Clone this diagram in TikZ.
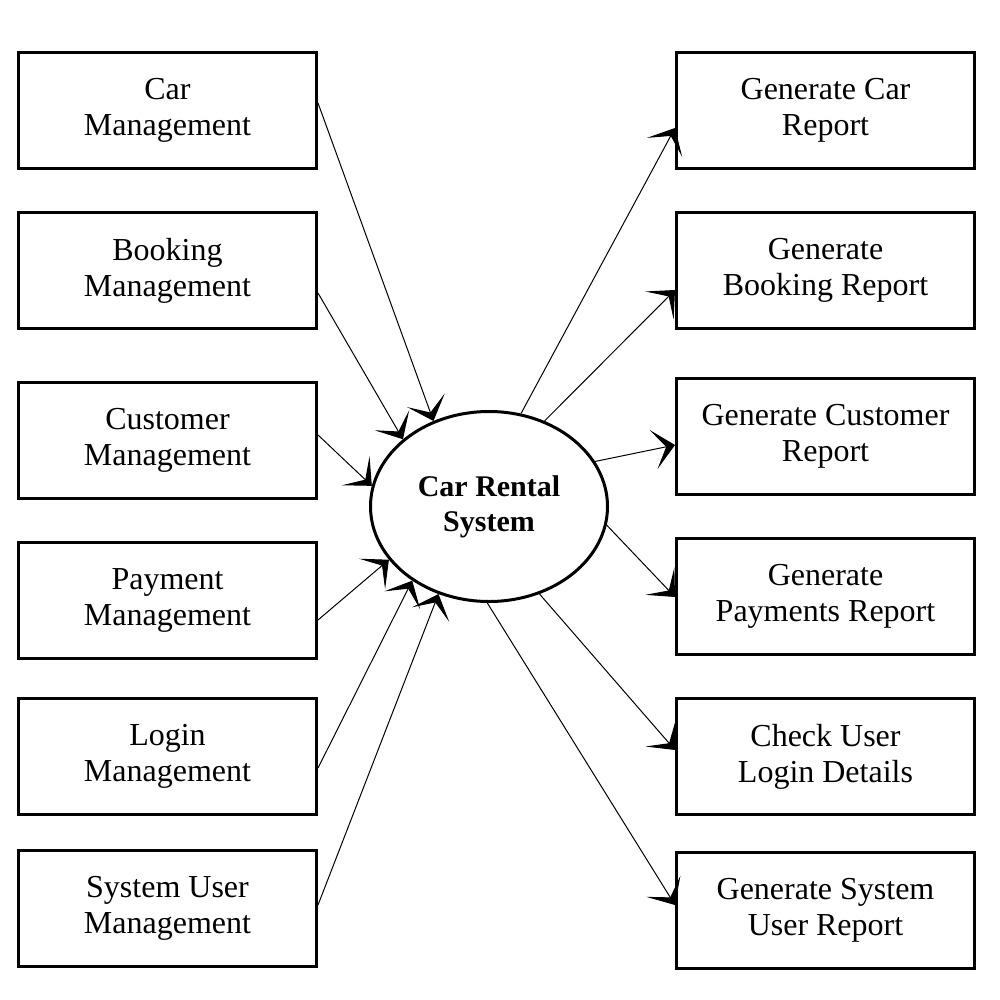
\documentclass[tikz,border=0pt]{standalone}
\usepackage{fontspec}
\setmainfont{Liberation Serif}
\usetikzlibrary{arrows.meta,calc,shapes.geometric}
\begin{document}
\begin{tikzpicture}[x=1pt,y=-1pt,
 box/.style={draw,line width=3pt,minimum width=298pt,minimum height=116pt,inner sep=0pt,align=center,font=\fontsize{32}{36}\selectfont},
 sys/.style={draw,ellipse,line width=3pt,minimum width=237pt,minimum height=190pt,inner sep=0pt,align=center,font=\bfseries\fontsize{30}{35}\selectfont},
 conn/.style={line width=1pt,-{Stealth[length=22pt,width=40pt,inset=13pt]}}]
\useasboundingbox[fill=white] (0,0) rectangle (1000,1000);
% left boxes
\node[box] (l1) at (167.5,110.5) {Car\\Management};
\node[box] (l2) at (167.5,270.5) {Booking\\Management};
\node[box] (l3) at (167.5,440.5) {Customer\\Management};
\node[box] (l4) at (167.5,600.5) {Payment\\Management};
\node[box] (l5) at (167.5,756.5) {Login\\Management};
\node[box] (l6) at (167.5,908.5) {System User\\Management};
% right boxes
\node[box] (r1) at (825.5,110.5) {Generate Car\\Report};
\node[box] (r2) at (825.5,270.5) {Generate\\Booking Report};
\node[box] (r3) at (825.5,436.5) {Generate Customer\\Report};
\node[box] (r4) at (825.5,596.5) {Generate\\Payments Report};
\node[box] (r5) at (825.5,756.5) {Check User\\Login Details};
\node[box] (r6) at (825.5,910.5) {Generate System\\User Report};
% centre
\node[sys] (cr) at (489,506.5) {Car Rental\\System};
% incoming
\draw[conn] ($(l1.east)+(0,-7.5)$) -- (cr.123);
\draw[conn] ($(l2.east)+(0,22.5)$) -- (cr.142);
\draw[conn] ($(l3.east)+(0,-5.5)$) -- (cr.170);
\draw[conn] ($(l4.east)+(0,19.5)$) -- (cr.208);
\draw[conn] ($(l5.east)+(0,11.5)$) -- (cr.224);
\draw[conn] ($(l6.east)+(0,-3.5)$) -- (cr.240);
% outgoing
\draw[conn] (cr.71) -- ($(r1.west)+(0,17.5)$);
\draw[conn] (cr.57) -- ($(r2.west)+(0,19.5)$);
\draw[conn] (cr.23) -- ($(r3.west)+(0,8.5)$);
\draw[conn] (cr.-9) -- ($(r4.west)+(0,0.5)$);
\draw[conn] (cr.-60) -- ($(r5.west)+(0,-6.5)$);
\draw[conn] (cr.-91) -- ($(r6.west)+(0,-5.5)$);
\end{tikzpicture}
\end{document}
